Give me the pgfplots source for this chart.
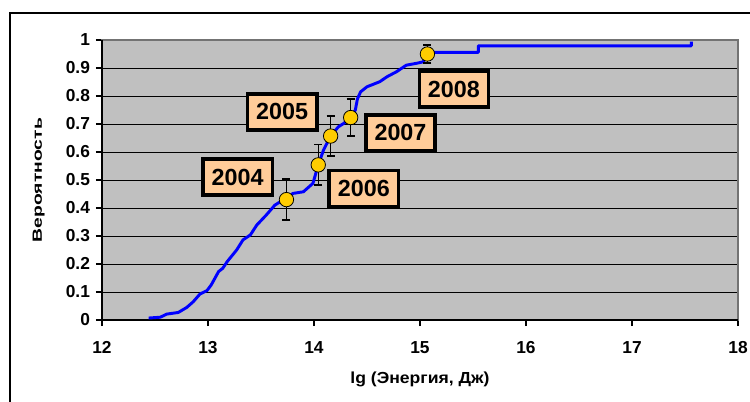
\documentclass[border=0pt]{standalone}
\usepackage{fontspec}
\setmainfont{Liberation Sans}
\usepackage{pgfplots}
\pgfplotsset{compat=1.18}
\definecolor{plotbg}{HTML}{C0C0C0}
\definecolor{boxfill}{HTML}{FFCC99}
\definecolor{dotfill}{HTML}{FFCC00}
\begin{document}
\begin{tikzpicture}
\useasboundingbox (-76.5pt,-60.75pt) rectangle (486pt,240pt);
\begin{axis}[
    at={(0,0)}, anchor=south west,
    scale only axis,
    width=477pt, height=210pt,
    xmin=12, xmax=18, ymin=0, ymax=1,
    xtick={12,13,...,18},
    ytick={0,0.1,...,1},
    axis background/.style={fill=plotbg},
    axis line style={draw=black!55, line width=0.8pt},
    ymajorgrids,
    grid style={black, line width=0.7pt},
    tick pos=left, tick align=outside,
    major tick length=4.5pt,
    tick style={black, line width=1pt},
    /pgf/number format/assume math mode=true,
    ticklabel style={font=\fontsize{13}{15}\selectfont\bfseries},
    xticklabel style={yshift=-8pt},
    yticklabel style={xshift=-1pt},
    xlabel={lg (Энергия, Дж)},
    ylabel={Вероятность},
    xlabel style={font=\fontsize{12}{14}\selectfont\bfseries, xscale=1.1, yshift=-7pt},
    ylabel style={font=\fontsize{10}{12}\selectfont\bfseries, xscale=1.45, yshift=9pt},
    clip=false,
]
\draw[black, line width=1.6pt] (rel axis cs:0,1) -- (rel axis cs:0,0) -- (rel axis cs:1,0);
\addplot[blue, line width=2.2pt, line join=round, mark=none] coordinates {
 (12.44,0.007) (12.55,0.010) (12.61,0.021) (12.72,0.027) (12.80,0.045)
 (12.86,0.065) (12.925,0.093) (12.99,0.105) (13.03,0.125) (13.10,0.173)
 (13.14,0.185) (13.18,0.208) (13.27,0.250) (13.33,0.286) (13.40,0.304)
 (13.46,0.339) (13.55,0.375) (13.63,0.410) (13.68,0.422) (13.74,0.430)
 (13.80,0.452) (13.90,0.458) (13.99,0.488) (14.04,0.554) (14.09,0.607)
 (14.157,0.657) (14.23,0.690) (14.28,0.702) (14.346,0.723) (14.39,0.750)
 (14.41,0.790) (14.44,0.815) (14.50,0.833) (14.62,0.851) (14.69,0.869)
 (14.78,0.887) (14.87,0.910) (14.97,0.917) (15.03,0.922) (15.07,0.950)
 (15.13,0.956) (15.55,0.956) (15.55,0.979) (17.56,0.979) (17.56,0.994)
};
\addplot[only marks, mark=*, mark size=5.4pt,
    mark options={fill=dotfill, draw=black, line width=0.6pt},
    error bars/.cd, y dir=both, y explicit,
    error bar style={black, line width=1pt},
    error mark options={rotate=90, mark size=3pt, black, line width=1pt}]
coordinates {
 (13.74,0.430) +- (0,0.073)
 (14.04,0.554) +- (0,0.072)
 (14.157,0.657) +- (0,0.071)
 (14.346,0.723) +- (0,0.066)
 (15.07,0.950) +- (0,0.032)
};
\tikzset{yr/.style={draw=black, fill=boxfill, line width=2.6pt,
    minimum width=52pt, minimum height=27pt, inner sep=0pt,
    font=\fontsize{17.5}{19}\selectfont\bfseries}}
\node[yr] at (axis cs:13.28,0.510) {2004};
\node[yr] at (axis cs:13.70,0.743) {2005};
\node[yr] at (axis cs:14.47,0.469) {2006};
\node[yr] at (axis cs:14.816,0.668) {2007};
\node[yr] at (axis cs:15.32,0.825) {2008};
\end{axis}
\draw[black, line width=1.5pt] (-69pt,-80pt) rectangle (500pt,230.25pt);
\end{tikzpicture}
\end{document}
